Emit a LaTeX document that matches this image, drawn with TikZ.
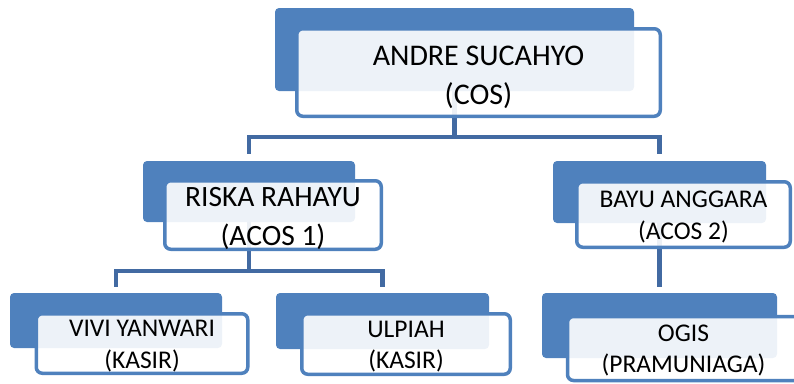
\documentclass[tikz,border=0pt]{standalone}
\usepackage{fontspec}
\setmainfont{Carlito}
\usetikzlibrary{positioning, backgrounds}
\definecolor{boxblue}{RGB}{79,129,189}
\definecolor{linkblue}{RGB}{66,106,162}

\tikzset{
  back/.style={fill=boxblue, rounded corners=4pt, inner sep=0pt},
  front/.style={draw=boxblue, line width=3.5pt, fill=white, fill opacity=0.9,
    rounded corners=6pt, inner sep=0pt},
  posttext/.style={align=center, inner sep=0pt},
  link/.style={draw=linkblue, line width=4.5pt, line join=miter},
  big/.style={font=\fontsize{30}{38.5}\selectfont},
  mid/.style={font=\fontsize{29.5}{39}\selectfont},
  small/.style={font=\fontsize{25.5}{31.5}\selectfont}
}

\begin{document}
\begin{tikzpicture}[x=1pt,y=-1pt]
    \clip (0,0) rectangle (794,383);
    % blue back boxes
    \foreach \n / \x / \y / \w / \h in {cosb/454.5/49.5/359/83, acosab/249/191.5/212/61,
        acosbb/659.5/192/213/62, kasiraab/116/320.5/212/55, kasirbb/382.5/321/213/56,
        pramb/659.5/325.5/235/65}
    \node[back, minimum width=\w pt, minimum height=\h pt] (\n) at (\x,\y) {};
    %
    % connectors behind the boxes
    \coordinate (jcos) at (454.5,137);
    \coordinate (jacosa) at (249,271);
    \begin{scope}[on background layer]
    \draw[link] (cosb.center) -- (jcos);
    \draw[link] (jcos) -| ([yshift=7pt]acosab.north);
    \draw[link] (jcos) -| ([yshift=7pt]acosbb.north);
    \draw[link] (acosab.center) -- (jacosa);
    \draw[link] (jacosa) -| ([yshift=6pt]kasiraab.north);
    \draw[link] (jacosa) -| ([yshift=6pt]kasirbb.north);
    \draw[link] (acosbb.center) -- ([yshift=6pt]pramb.north);
    \end{scope}
    %
    % white front boxes
    \node[front, minimum width=363.5pt, minimum height=87.5pt] (cos)
        at ([shift={(24,23)}]cosb.center) {};
    \node[front, minimum width=216.5pt, minimum height=68.5pt] (acosa)
        at ([shift={(24,23.5)}]acosab.center) {};
    \node[front, minimum width=213.5pt, minimum height=65.5pt] (acosb)
        at ([shift={(24,22.5)}]acosbb.center) {};
    \node[front, minimum width=211.5pt, minimum height=59.5pt] (kasira)
        at ([shift={(26,23)}]kasiraab.center) {};
    \node[front, minimum width=208.5pt, minimum height=60.5pt] (kasirb)
        at ([shift={(23.5,23)}]kasirbb.center) {};
    \node[front, minimum width=242pt, minimum height=64pt] (pram)
        at ([shift={(29,23)}]pramb.center) {};
    %
    % names and posts
    \node[posttext, big] (cost) at ([yshift=-5pt]cos.center) {ANDRE SUCAHYO\\(COS)};
    \node[posttext, mid] (acosat) at ([yshift=-3.5pt]acosa.center) {RISKA RAHAYU\\(ACOS 1)};
    \node[posttext, small] (acosbt) at ([yshift=-2.5pt]acosb.center) {BAYU ANGGARA\\(ACOS 2)};
    \node[posttext, small] (kasirat) at ([yshift=-2.5pt]kasira.center) {VIVI YANWARI\\(KASIR)};
    \node[posttext, small] (kasirbt) at ([yshift=-2.5pt]kasirb.center) {ULPIAH\\(KASIR)};
    \node[posttext, small] (pramt) at ([xshift=-5pt,yshift=-2pt]pram.center) {OGIS\\(PRAMUNIAGA)};
\end{tikzpicture}
\end{document}
